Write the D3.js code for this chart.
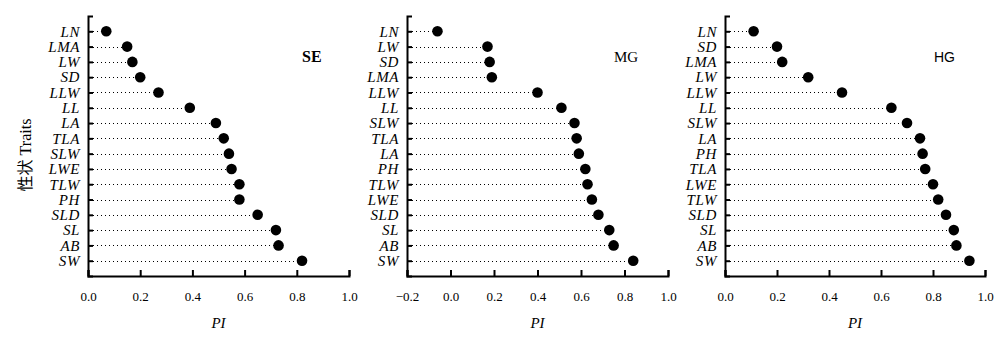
<!DOCTYPE html>
<html>
<head>
<meta charset="utf-8">
<script src="https://cdn.jsdelivr.net/npm/d3@7"></script>
<style>
  html, body { margin: 0; padding: 0; background: #fff; }
  svg { display: block; }
</style>
</head>
<body>
<svg id="chart" width="1000" height="340"></svg>
<script>
// Plasticity index (PI) of each trait under three treatments
const seTraits = ["LN", "LMA", "LW", "SD", "LLW", "LL", "LA", "TLA", "SLW", "LWE", "TLW", "PH", "SLD", "SL", "AB", "SW"];
const seValues = [0.07, 0.15, 0.17, 0.20, 0.27, 0.39, 0.49, 0.52, 0.54, 0.55, 0.58, 0.58, 0.65, 0.72, 0.73, 0.82];

const mgTraits = ["LN", "LW", "SD", "LMA", "LLW", "LL", "SLW", "TLA", "LA", "PH", "TLW", "LWE", "SLD", "SL", "AB", "SW"];
const mgValues = [-0.06, 0.17, 0.18, 0.19, 0.40, 0.51, 0.57, 0.58, 0.59, 0.62, 0.63, 0.65, 0.68, 0.73, 0.75, 0.84];

const hgTraits = ["LN", "SD", "LMA", "LW", "LLW", "LL", "SLW", "LA", "PH", "TLA", "LWE", "TLW", "SLD", "SL", "AB", "SW"];
const hgValues = [0.11, 0.20, 0.22, 0.32, 0.45, 0.64, 0.70, 0.75, 0.76, 0.77, 0.80, 0.82, 0.85, 0.88, 0.89, 0.94];

const ticksPos = [0.0, 0.2, 0.4, 0.6, 0.8, 1.0];
const ticksMG = [-0.2, 0.0, 0.2, 0.4, 0.6, 0.8, 1.0];

const panelNames = ["SE", "MG", "HG"];

const svg = d3.select("#chart");
const serif = "'Liberation Serif', 'Times New Roman', serif";

const panels = [
  { name: panelNames[0], traits: seTraits, values: seValues, domain: [0, 1], ticks: ticksPos,
    x0: 88, x1: 349, title: { x: 302, weight: "bold", family: serif, size: 16 } },
  { name: panelNames[1], traits: mgTraits, values: mgValues, domain: [-0.2, 1], ticks: ticksMG,
    x0: 407, x1: 668, title: { x: 614, weight: "normal", family: serif, size: 15 } },
  { name: panelNames[2], traits: hgTraits, values: hgValues, domain: [0, 1], ticks: ticksPos,
    x0: 725, x1: 985, title: { x: 934, weight: "normal", family: "'Liberation Sans', Arial, sans-serif", size: 14 } }
];

const yTop = 16, yBottom = 276;

panels.forEach(p => {
  const x = d3.scaleLinear().domain(p.domain).range([p.x0, p.x1]);
  const y = d3.scalePoint().domain(p.traits).range([yTop, yBottom]).padding(1);
  const g = svg.append("g");

  // dotted leader lines from the axis to each point
  g.append("g").selectAll("line")
    .data(p.traits)
    .join("line")
    .attr("x1", p.x0 + 1)
    .attr("x2", (d, i) => x(p.values[i]))
    .attr("y1", d => Math.round(y(d)) + 0.5)
    .attr("y2", d => Math.round(y(d)) + 0.5)
    .attr("stroke", "#000")
    .attr("stroke-width", 1)
    .attr("stroke-dasharray", "1,3");

  // points
  g.append("g").selectAll("circle")
    .data(p.traits)
    .join("circle")
    .attr("cx", (d, i) => x(p.values[i]))
    .attr("cy", d => y(d))
    .attr("r", 5.3)
    .attr("fill", "#000");

  // y axis with inward ticks
  const yAxis = g.append("g")
    .attr("transform", `translate(${p.x0},0)`)
    .call(d3.axisLeft(y).tickSizeInner(-5).tickSizeOuter(-5).tickPadding(8));
  yAxis.selectAll("text")
    .attr("font-family", serif)
    .attr("font-style", "italic")
    .attr("font-size", 15)
    .attr("letter-spacing", 0.6)
    .attr("fill", "#000");

  // x axis with inward ticks
  const xAxis = g.append("g")
    .attr("transform", `translate(0,${yBottom})`)
    .call(d3.axisBottom(x).tickValues(p.ticks).tickFormat(d3.format(".1f"))
      .tickSizeInner(-6).tickSizeOuter(-6).tickPadding(16));
  xAxis.selectAll("text")
    .text(d => d3.format(".1f")(d).replace("-", "\u2212"))
    .attr("font-family", serif)
    .attr("font-size", 13)
    .attr("fill", "#000");

  [yAxis, xAxis].forEach(a => {
    a.select(".domain").attr("stroke", "#000").attr("stroke-width", 2);
    a.selectAll(".tick line").attr("stroke", "#000").attr("stroke-width", 2);
  });

  // x axis title
  g.append("text")
    .attr("x", (p.x0 + p.x1) / 2)
    .attr("y", 328)
    .attr("text-anchor", "middle")
    .attr("font-family", serif)
    .attr("font-style", "italic")
    .attr("font-size", 15)
    .text("PI");

  // treatment label
  g.append("text")
    .attr("x", p.title.x)
    .attr("y", 62)
    .attr("font-family", p.title.family)
    .attr("font-weight", p.title.weight)
    .attr("font-size", p.title.size)
    .text(p.name);
});

// y axis title
const yt = svg.append("text")
  .attr("transform", "translate(31,155) rotate(-90)")
  .attr("text-anchor", "middle")
  .attr("font-size", 16);
yt.append("tspan").attr("font-family", "'Noto Sans CJK SC', sans-serif").attr("font-size", 16).text("性状");
yt.append("tspan").attr("font-family", serif).text(" Traits");
</script>
</body>
</html>
